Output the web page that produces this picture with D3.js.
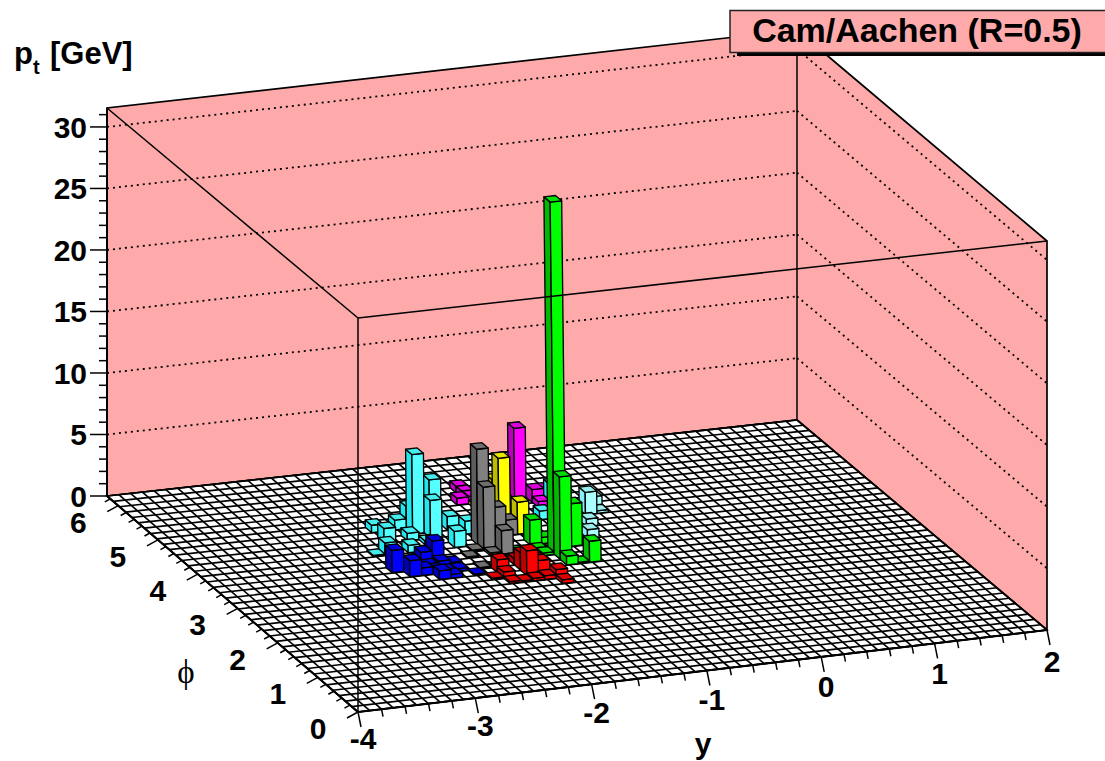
<!DOCTYPE html>
<html><head><meta charset="utf-8">
<script src="https://cdn.jsdelivr.net/npm/d3@7"></script>
<style>html,body{margin:0;padding:0;background:#fff;overflow:hidden}svg{display:block}
text{font-family:"Liberation Sans",Arial,sans-serif;font-weight:bold;fill:#000}</style>
</head><body><svg id="c" width="1105" height="761"></svg>
<script>
// ---------- data (bin indices on y / phi, pt in GeV) ----------
const yTicks=[-4,-3,-2,-1,0,1,2];
const phiTicks=[0,1,2,3,4,5,6];
const ptTicks=[0,5,10,15,20,25,30];
const yBins=60, phiBins=40, ptMax=31.54;
const titleText="Cam/Aachen (R=0.5)";
const blueBars=[[15,22,1.8],[16,21,1.3],[19,23,1.7],[18,23,0.9],[18,22,0.3],[17,21,0.6],[18,20,0.7],[18,21,0.4],[19,21,0.2],[20,21,0.2],[19,22,0.5],[20,22,0.3],[19,20,0.3],[21,20,0.1]];
const cyanBars=[[20,28,6.45],[22,29,3.75],[21,27,3.05],[20,29,1.8],[21,28,1.4],[23,28,1.1],[22,25,1.3],[24,27,1.05],[17,29,0.6],[17,27,1.2],[19,29,0.8],[19,27,0.6],[18,25,0.6],[20,26,0.3],[16,25,1.0],[15,25,0.1],[31,28,0.7],[33,30,1.8]];
const paleBars=[[35,28,1.8],[36,29,0.9],[36,28,0.2],[34,26,0.6],[33,24,0.7]];
const magentaBars=[[31,32,5.7],[32,31,1.05],[32,30,0.5],[33,32,0.55],[27,34,0.55],[27,33,0.55],[26,32,0.55],[27,32,0.6]];
const greyBars=[[24,25,7.75],[24,24,5.1],[26,26,2.4],[27,26,1.25],[25,23,1.9],[24,23,0.2],[23,24,0.1],[22,23,0.1],[22,21,0.1]];
const yellowBars=[[28,29,4.87],[28,26,2.6],[28,30,2.7],[27,31,0.3]];
const greenBars=[[29,22,28.55],[29,21,6.7],[31,23,3.45],[28,24,2.0],[31,20,1.7],[29,20,0.7],[30,20,0.1],[28,22,0.2],[28,23,0.1],[26,23,0.1],[29,24,0.5]];
const redBars=[[25,19,2.0],[23,20,1.05],[25,21,0.5],[25,20,1.4],[23,19,0.5],[22,19,0.1],[23,18,0.15],[24,18,0.1],[25,18,0.2],[26,19,1.1],[26,20,1.0],[26,18,0.3],[27,18,0.7],[27,17,0.3]];
// front, left, top face colours of each jet
const jets=[
 [blueBars,"#0000ff","#0000ba","#0000de"],
 [cyanBars,"#55ffff","#22e6ee","#44eeee"],
 [paleBars,"#aaffff","#88eeff","#99eeee"],
 [magentaBars,"#ff00ff","#ba00ba","#de00de"],
 [greyBars,"#808080","#5d5d5d","#6f6f6f"],
 [yellowBars,"#ffff00","#bcbc00","#e6e600"],
 [greenBars,"#00ff00","#00ba00","#00de00"],
 [redBars,"#ff0000","#ba0000","#de0000"]];

// ---------- projection ----------
function homography(q){
  const [a,b,c,d]=q;
  const dx1=b[0]-c[0],dx2=d[0]-c[0],sx=a[0]-b[0]+c[0]-d[0];
  const dy1=b[1]-c[1],dy2=d[1]-c[1],sy=a[1]-b[1]+c[1]-d[1];
  const den=dx1*dy2-dx2*dy1;
  const g=(sx*dy2-dx2*sy)/den,h=(dx1*sy-sx*dy1)/den;
  const A=b[0]-a[0]+g*b[0],B=d[0]-a[0]+h*d[0],D=b[1]-a[1]+g*b[1],E=d[1]-a[1]+h*d[1];
  return (u,v)=>{const w=g*u+h*v+1;return [(A*u+B*v+a[0])/w,(D*u+E*v+a[1])/w];};
}
const floorH=homography([[358,712],[1047,630],[797,420],[107,496]]);
const topH=homography([[358,318],[1047,241],[797,30],[107,108]]);
const uScale=d3.scaleLinear().domain([-4,2]).range([0,1]);
const vScale=d3.scaleLinear().domain([0,2*Math.PI]).range([0,1]);
const wScale=d3.scaleLinear().domain([0,ptMax]).range([0,1]);
const yOfBin=d3.scaleLinear().domain([0,yBins]).range([-4,2]);
const phiOfBin=d3.scaleLinear().domain([0,phiBins]).range([0,2*Math.PI]);
function P(y,phi,pt){
  const u=uScale(y),v=vScale(phi),w=wScale(pt);
  const f=floorH(u,v),t=topH(u,v);
  return [f[0]+(t[0]-f[0])*w,f[1]+(t[1]-f[1])*w];
}
const PB=(i,j,pt)=>P(yOfBin(i),phiOfBin(j),pt);
const barShiftI=-0.23, barShiftJ=0.058;
const PBar=(i,j,pt)=>PB(i+barShiftI,j+barShiftJ,pt);
const path=pts=>"M"+pts.map(p=>p[0].toFixed(2)+","+p[1].toFixed(2)).join("L")+"Z";
const line=(g,a,b,w,extra)=>{const l=g.append("line").attr("x1",a[0]).attr("y1",a[1]).attr("x2",b[0]).attr("y2",b[1]).attr("stroke","#000").attr("stroke-width",w);if(extra)l.attr("stroke-dasharray",extra);return l;};

const svg=d3.select("#c");
const PINK="#ffaaaa";
// walls
const wall=svg.append("g");
wall.append("path").attr("d",path([P(-4,2*Math.PI,0),P(-4,2*Math.PI,ptMax),P(2,2*Math.PI,ptMax),P(2,0,ptMax),P(2,0,0),P(2,2*Math.PI,0)])).attr("fill",PINK).attr("stroke","#000").attr("stroke-width",1.7);
line(wall,P(2,2*Math.PI,0),P(2,2*Math.PI,ptMax),1.5);
ptTicks.slice(1).forEach(z=>{
  line(wall,P(-4,2*Math.PI,z),P(2,2*Math.PI,z),1.8,"2 4");
  line(wall,P(2,2*Math.PI,z),P(2,0,z),1.8,"2 4");
});
// floor
const fl=svg.append("g");
fl.append("path").attr("d",path([P(-4,0,0),P(2,0,0),P(2,2*Math.PI,0),P(-4,2*Math.PI,0)])).attr("fill","#fff").attr("stroke","#000").attr("stroke-width",1.6);
d3.range(0,yBins+1).forEach(i=>line(fl,PB(i,0,0),PB(i,phiBins,0),1.65));
d3.range(0,phiBins+1).forEach(j=>line(fl,PB(0,j,0),PB(yBins,j,0),1.65));
// bars
const all=[];
jets.forEach(([bars,front,left,top])=>bars.forEach(b=>all.push({i:b[0],j:b[1],pt:b[2],front,left,top})));
all.sort((a,b)=>(b.j-a.j)||(b.i-a.i));
const gb=svg.append("g").attr("stroke","#000").attr("stroke-width",1.35).attr("stroke-linejoin","round");
all.forEach(b=>{
  const {i,j,pt,front,left,top}=b;
  gb.append("path").attr("d",path([PBar(i,j,0),PBar(i,j,pt),PBar(i,j+1,pt),PBar(i,j+1,0)])).attr("fill",left);
  gb.append("path").attr("d",path([PBar(i,j,0),PBar(i+1,j,0),PBar(i+1,j,pt),PBar(i,j,pt)])).attr("fill",front);
  gb.append("path").attr("d",path([PBar(i,j,pt),PBar(i+1,j,pt),PBar(i+1,j+1,pt),PBar(i,j+1,pt)])).attr("fill",top);
});
// front box
const fb=svg.append("g");
line(fb,P(-4,0,0),P(-4,0,ptMax),1.5);
line(fb,P(-4,0,ptMax),P(-4,2*Math.PI,ptMax),1.5);
line(fb,P(-4,0,ptMax),P(2,0,ptMax),1.5);
// axes
const ax=svg.append("g");
line(ax,P(-4,2*Math.PI,0),P(-4,2*Math.PI,ptMax),2);
d3.range(0,32).forEach(z=>{
  const p=P(-4,2*Math.PI,z),major=z%5===0;
  line(ax,[p[0],p[1]],[p[0]-(major?17:8),p[1]],1.5);
});
ptTicks.forEach(z=>{const p=P(-4,2*Math.PI,z);
  ax.append("text").attr("x",p[0]-20).attr("y",p[1]+11).attr("text-anchor","end").attr("font-size",30).text(z);});
line(ax,P(-4,0,0),P(-4,2*Math.PI,0),2);
d3.range(0,32).forEach(k=>{
  const phi=k*0.2,p=P(-4,phi,0),major=k%5===0,s=major?1:0.5;
  line(ax,p,[p[0]-11*s,p[1]+6*s],1.5);
});
phiTicks.forEach(v=>{const p=P(-4,v,0);
  ax.append("text").attr("x",p[0]-40).attr("y",p[1]+27).attr("text-anchor","middle").attr("font-size",30).text(v);});
line(ax,P(-4,0,0),P(2,0,0),2);
d3.range(0,31).forEach(k=>{
  const y=-4+k*0.2,p=P(y,0,0),major=k%5===0,s=major?1:0.5;
  line(ax,p,[p[0]+3*s,p[1]+15*s],1.5);
});
yTicks.forEach(v=>{const p=P(v,0,0);
  ax.append("text").attr("x",p[0]+5).attr("y",p[1]+37+(v+4)*0.8).attr("text-anchor","middle").attr("font-size",30).text(v);});
// axis titles
const pt=svg.append("text").attr("y",64).attr("font-size",31);
pt.append("tspan").attr("x",14).text("p");
pt.append("tspan").attr("x",33).attr("font-size",20).attr("dy",10).text("t");
pt.append("tspan").attr("x",50).attr("dy",-10).text("[GeV]");
svg.append("text").attr("x",703).attr("y",754).attr("text-anchor","middle").attr("font-size",30).text("y");
svg.append("text").attr("x",186).attr("y",683).attr("text-anchor","middle").attr("font-size",33).style("font-family","'Liberation Serif',serif").style("font-weight","normal").text("\u03D5");
// title box
svg.append("rect").attr("x",737).attr("y",16).attr("width",370).attr("height",40).attr("fill","#000");
svg.append("rect").attr("x",730).attr("y",10.5).attr("width",380).attr("height",42).attr("fill",PINK).attr("stroke","#222").attr("stroke-width",1.5);
svg.append("text").attr("x",917).attr("y",42).attr("text-anchor","middle").attr("font-size",34).text(titleText);
</script></body></html>
